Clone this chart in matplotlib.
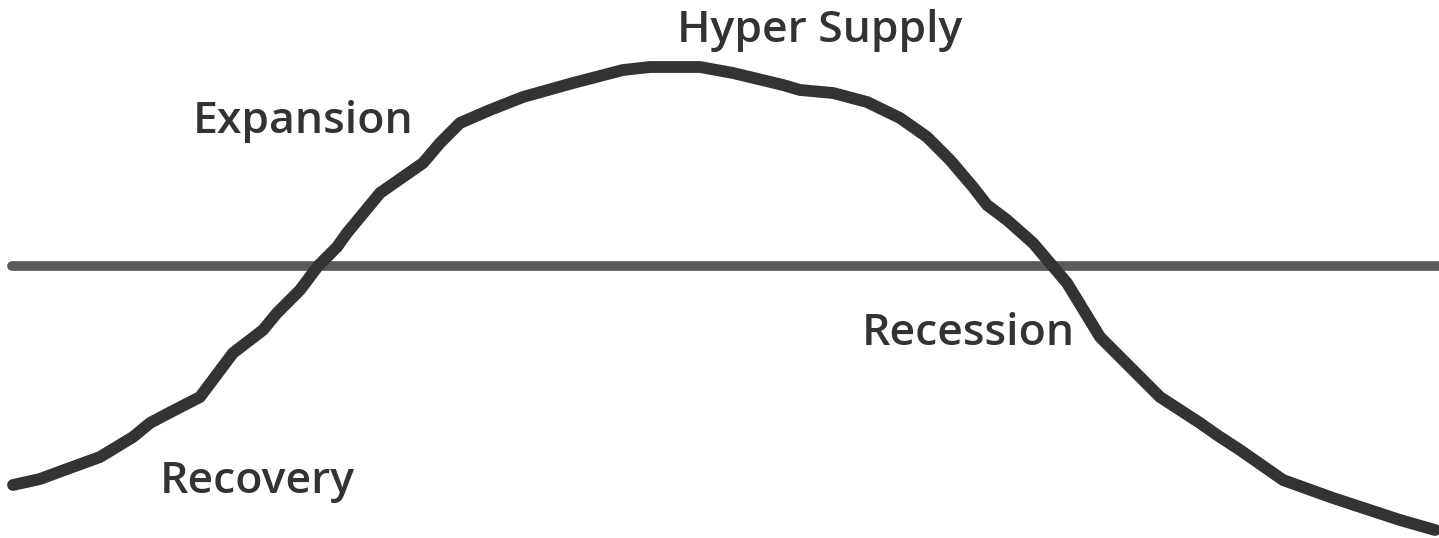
import matplotlib
matplotlib.use('Agg')
import matplotlib.pyplot as plt
import numpy as np

# hand-drawn market cycle (x = time, level relative to baseline)
cycle_x = [13, 40, 67, 100, 133, 150, 167, 200, 233, 250, 263, 277, 300, 318, 337,
           347, 380, 423, 440, 460, 490, 523, 573, 623, 650, 700, 733, 783, 800,
           833, 867, 900, 927, 950, 973, 987, 1007, 1033, 1050, 1067, 1100, 1130,
           1160, 1200, 1217, 1240, 1283, 1333, 1400, 1435]
cycle_level = [-219, -213, -203, -191, -171, -157, -148, -131, -87, -74, -64, -47, -24, 0, 19,
               33, 73, 103, 123, 143, 156, 169, 183, 196, 199, 199, 193, 181, 176,
               173, 164, 148, 129, 106, 79, 61, 46, 23, 3, -17, -71, -101,
               -131, -157, -169, -184, -214, -232, -254, -264]
baseline_x = [12, 1439]
baseline_level = [0, 0]

labels = ['Hyper Supply', 'Expansion', 'Recession', 'Recovery']
label_x = [820, 303, 968, 257]
label_level = [224, 133, -79, -227]

plt.rcParams['font.family'] = ['Open Sans', 'DejaVu Sans']
fig = plt.figure(figsize=(14.39, 5.38), dpi=100)
ax = fig.add_axes([0, 0, 1, 1])
ax.plot(baseline_x, baseline_level, color='#5a5a5a', linewidth=7, solid_capstyle='round', zorder=1)
ax.plot(cycle_x, cycle_level, color='#333333', linewidth=8.5, solid_capstyle='round',
        solid_joinstyle='round', zorder=2)
for txt, lx, ly in zip(labels, label_x, label_level):
    ax.text(lx, ly, txt, fontsize=32, fontweight='semibold', color='#333333',
            ha='center', va='baseline')
ax.set_xlim(0, 1439)
ax.set_ylim(-272, 266)
ax.axis('off')
fig.savefig('out.png', dpi=100, facecolor='white')
